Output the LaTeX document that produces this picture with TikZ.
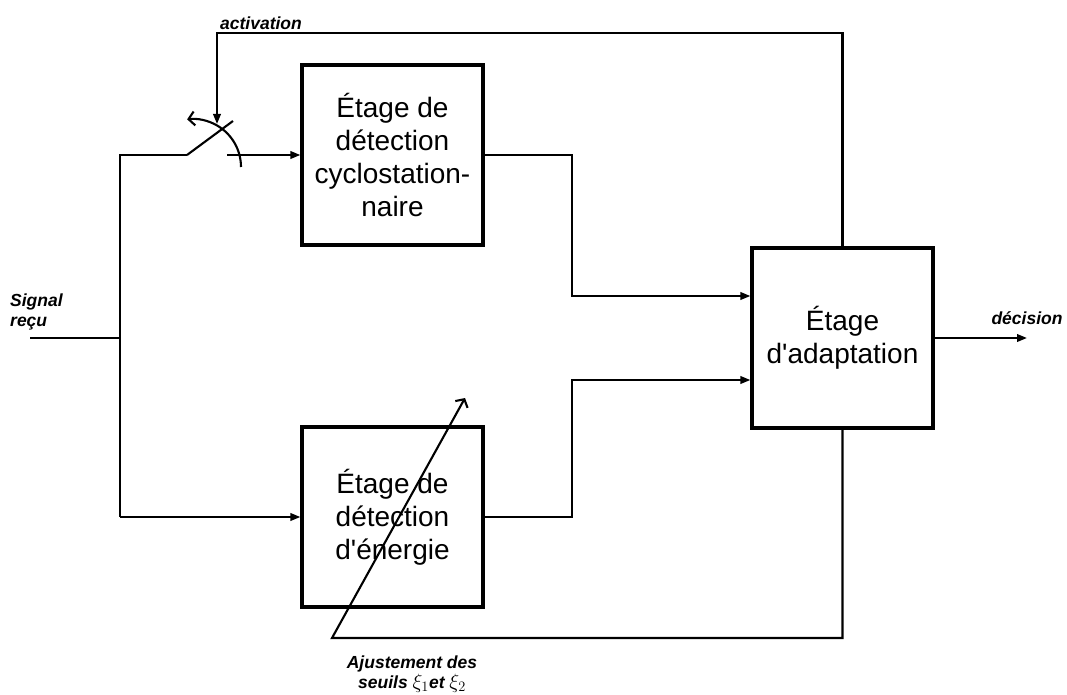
\documentclass[tikz,border=0pt]{standalone}
\usepackage{fontspec}
\setmainfont{Liberation Sans}[Ligatures=TeXOff]
\usetikzlibrary{arrows.meta}
\begin{document}
\begin{tikzpicture}[x=1pt,y=-1pt,
  blk/.style={draw,line width=3.2pt,minimum width=181pt,minimum height=180pt,inner sep=0pt,align=center,font=\fontsize{28}{33}\selectfont},
  wire/.style={line width=2.1pt},
  arr/.style={wire,-{Triangle[length=10pt,width=7.5pt]}},
  barb/.style={wire,-{Straight Barb[length=6pt,width=14pt]}},
  lbl/.style={font=\fontsize{17.5}{20.5}\selectfont\bfseries\itshape,inner sep=0pt}]
\useasboundingbox (0,0) rectangle (1067,695);
% blocks
\node[blk] (cyclo) at (392.5,155) {Étage de\\détection\\cyclostation-\\naire};
\node[blk] (energy) at (392.5,517) {Étage de\\détection\\d'énergie};
\node[blk] (adapt) at (842.5,338) {Étage\\d'adaptation};
% coordinates
\coordinate (sig) at (30,338);
\coordinate (jn) at (120,338);
\coordinate (jt) at (120,155);
\coordinate (jb) at (120,517);
\coordinate (sw0) at (187,155);
\coordinate (sw1) at (233,121);
\coordinate (sw2) at (227,155);
\coordinate (arc0) at (241,167);
\coordinate (topc) at (217,33);
\coordinate (acttip) at (217,124);
\coordinate (mx1) at (572,296);
\coordinate (mx2) at (572,380);
\coordinate (out) at (1027,338);
\coordinate (fb) at (332,638);
\coordinate (fbtip) at (465,398);
% input
\draw[wire] (sig) -- (jn);
\draw[wire] (sw0) -- (jt) -- (jb);
\draw[arr] (jb) -- (energy.west);
% switch
\draw[wire] (sw0) -- (sw1);
\draw[arr] (sw2) -- (cyclo.west);
\draw[barb] (arc0) arc[start angle=0,end angle=-97,radius=48];
% activation
\draw[arr] (adapt.north) |- (topc) -- (acttip);
% to adaptation
\draw[arr] (cyclo.east) -| (mx1) -- (adapt.west |- mx1);
\draw[arr] (energy.east) -| (mx2) -- (adapt.west |- mx2);
% output
\draw[arr] (adapt.east) -- (out);
% threshold feedback
\draw[barb] (adapt.south) |- (fb) -- (fbtip);
% labels
\node[lbl,anchor=west,align=left] (lsig) at (10,312) {Signal\\reçu};
\node[lbl] (lact) at (261,23) {activation};
\node[lbl] (ldec) at (1027,318) {décision};
\node[lbl,align=center] (laj) at (412,674) {Ajustement des\\seuils {\fontsize{22}{20.5}\selectfont$\xi_1$}et {\fontsize{22}{20.5}\selectfont$\xi_2$}};
\end{tikzpicture}
\end{document}
